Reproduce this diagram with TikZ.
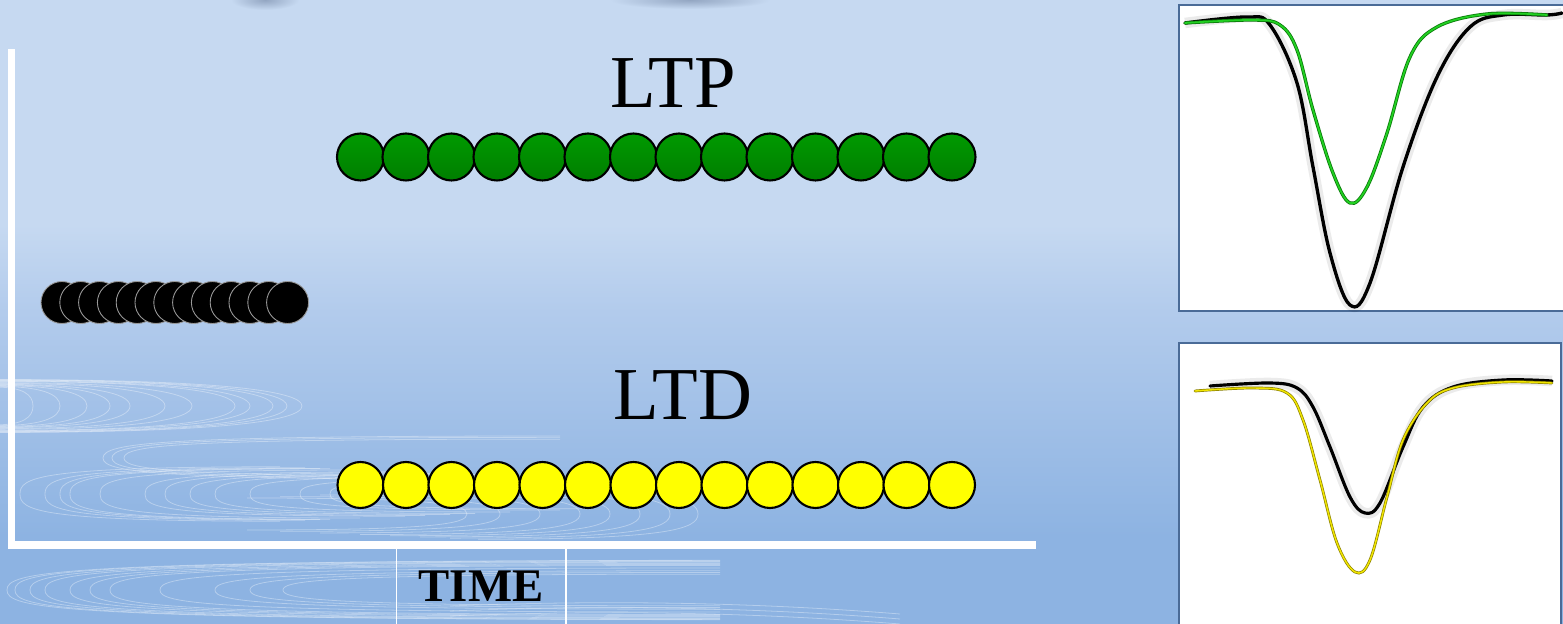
\documentclass[tikz,border=0pt]{standalone}
\usepackage{fontspec}
\setmainfont{Liberation Serif}
\definecolor{bgtop}{HTML}{C6D9F1}
\definecolor{bgmid}{HTML}{B2CBEC}
\definecolor{bgbot}{HTML}{8DB3E2}
\definecolor{panelframe}{HTML}{4A6B97}
\definecolor{gdark}{HTML}{007E00}
\definecolor{glight}{HTML}{009A00}
\definecolor{ylw}{HTML}{FFFF00}
\definecolor{lgreen}{HTML}{22D022}
\definecolor{dgreen}{HTML}{0A7A0A}
\definecolor{lyel}{HTML}{F2E600}
\definecolor{dyel}{HTML}{8C8200}
\definecolor{smudge}{HTML}{93A6C2}
\pgfdeclareverticalshading{bgshade}{100bp}{color(0bp)=(bgbot); color(32bp)=(bgbot); color(50bp)=(bgmid); color(57bp)=(bgtop); color(100bp)=(bgtop)}
\tikzset{
  gball/.style={circle, draw=black, line width=1.2pt, top color=glight, bottom color=gdark, minimum size=0.94cm, inner sep=0pt},
  yball/.style={circle, draw=black, line width=1.2pt, fill=ylw, minimum size=0.92cm, inner sep=0pt},
  kball/.style={circle, draw=black!40!white, line width=0.5pt, fill=black, minimum size=0.84cm, inner sep=0pt},
  axisline/.style={draw=white, line width=4.2pt},
  thinline/.style={draw=white, line width=1.1pt},
  panel/.style={draw=panelframe, line width=1.3pt, fill=white},
  swirl/.style={draw=white, opacity=0.35, line width=0.45pt},
  glow/.style={draw=black, opacity=0.08, line width=6pt, line join=round},
  bigtext/.style={font=\fontsize{42.5}{50}\selectfont, inner sep=0pt},
  timetext/.style={font=\fontsize{26.6}{30}\selectfont\bfseries, inner sep=0pt}
}
\begin{document}
\begin{tikzpicture}[x={(0.02cm,0)}, y={(0,-0.02cm)}]
\useasboundingbox (0,0) rectangle (1563,624);
% background
\shade[shading=bgshade] (0,0) rectangle (1563,624);
\shade[inner color=smudge, outer color=bgtop] (265,0) ellipse [x radius=34, y radius=10];
\shade[inner color=smudge, outer color=bgtop] (690,0) ellipse [x radius=80, y radius=9];
% decorative swirls
\begin{scope}
\clip (0,360) rectangle (1000,624);
% band A: nested ")" shapes
\foreach \r in {33,60,87,110,130,165,192,235,250,273,287,302}{
  \pgfmathsetmacro{\ha}{18+0.028*\r}
  \draw[swirl] ({-5},{406-\ha}) .. controls ({0.7*\r},{406-\ha}) and ({\r},{406-0.6*\ha}) .. ({\r},{406}) .. controls ({\r},{406+0.6*\ha}) and ({0.7*\r},{406+\ha}) .. ({-5},{406+\ha});
}
% band B: large "(" shapes
\foreach \l in {103,112,124}{
  \pgfmathsetmacro{\ha}{22-0.15*(\l-103)}
  \draw[swirl] ({560},{458-\ha}) .. controls ({\l+60},{458-\ha}) and ({\l},{458-0.7*\ha}) .. ({\l},{458}) .. controls ({\l},{458+0.7*\ha}) and ({\l+60},{458+\ha}) .. ({600},{458+\ha});
}
% band B2: nested "(" shapes
\foreach \l in {20,45,60,70,100,145,165,190,215,250,300,330}{
  \pgfmathsetmacro{\ha}{28-0.04*\l}
  \draw[swirl] ({\l+260},{494-\ha}) .. controls ({\l+0.3*\ha*2},{494-\ha}) and ({\l},{494-0.6*\ha}) .. ({\l},{494}) .. controls ({\l},{494+0.6*\ha}) and ({\l+0.3*\ha*2},{494+\ha}) .. ({\l+260},{494+\ha});
}
% band C: nested ")" shapes near the yellow row
\foreach \r in {467,500,540,580,610,640,670,698}{
  \pgfmathsetmacro{\ha}{16+0.04*(\r-467)}
  \draw[swirl] ({\r-220},{514-\ha}) .. controls ({\r-30},{514-\ha}) and ({\r},{514-0.6*\ha}) .. ({\r},{514}) .. controls ({\r},{514+0.6*\ha}) and ({\r-30},{514+\ha}) .. ({\r-220},{514+\ha});
}
% band D: nested "(" shapes below the axis
\foreach \l in {7,15,30,45,70,90,110,160,215,250,283}{
  \pgfmathsetmacro{\ha}{30-0.05*\l}
  \draw[swirl] ({720},{590-\ha}) .. controls ({\l+40},{590-\ha}) and ({\l},{590-0.6*\ha}) .. ({\l},{590}) .. controls ({\l},{590+0.6*\ha}) and ({\l+40},{590+\ha}) .. ({720},{590+\ha});
}
\foreach \y in {606,611,616}{
  \draw[swirl] ({450},{\y}) .. controls ({600},{\y-6}) and ({750},{\y-4}) .. ({900},{\y+8});
}
\end{scope}
% axes
\draw[axisline] (11.5,49) -- (11.5,549);
\draw[axisline] (8,545) -- (1036,545);
\draw[thinline] (396.5,549) -- (396.5,624);
\draw[thinline] (566,549) -- (566,624);
% labels
\node[bigtext, anchor=base] (ltp) at (673,108) {LTP};
\node[bigtext, anchor=base] (ltd) at (683,420) {LTD};
\node[timetext, anchor=base] (time) at (481,602) {TIME};
% circles
\foreach \i in {0,...,13}{
  \node[gball] (g\i) at ({360.5+45.5*\i},157) {};
}
\foreach \i in {0,...,13}{
  \node[yball] (y\i) at ({360.5+45.5*\i},485) {};
}
\foreach \i in {0,...,12}{
  \node[kball] (k\i) at ({62+18.8*\i},302.5) {};
}
% panels
\draw[panel] (1179,5) rectangle (1566,311);
\draw[panel] (1179,343) rectangle (1561,628);
% top panel curves
\draw[glow] plot[smooth, tension=0.6] coordinates {(1185,23) (1247,17) (1270,25) (1297,83) (1313,167) (1330,253) (1350,305) (1370,283) (1403,167) (1437,77) (1470,27) (1503,15) (1547,15) (1562,13)};
\draw[black, line width=1.9pt, line cap=round] plot[smooth, tension=0.6] coordinates {(1185,23) (1247,17) (1270,25) (1297,83) (1313,167) (1330,253) (1350,305) (1370,283) (1403,167) (1437,77) (1470,27) (1503,15) (1547,15) (1562,13)};
\draw[dgreen, line width=1.9pt, line cap=round] plot[smooth, tension=0.6] coordinates {(1185,23) (1253,20) (1280,25) (1297,50) (1313,110) (1333,173) (1350,203) (1367,187) (1387,133) (1410,57) (1437,27) (1487,14) (1547,15)};
\draw[lgreen, line width=1.0pt, line cap=round] plot[smooth, tension=0.6] coordinates {(1185,23) (1253,20) (1280,25) (1297,50) (1313,110) (1333,173) (1350,203) (1367,187) (1387,133) (1410,57) (1437,27) (1487,14) (1547,15)};
% bottom panel curves
\draw[glow] plot[smooth, tension=0.6] coordinates {(1210,386) (1270,383) (1297,388) (1313,407) (1330,447) (1350,497) (1365,513) (1380,503) (1403,447) (1423,407) (1453,387) (1503,380) (1552,381)};
\draw[black, line width=1.8pt, line cap=round] plot[smooth, tension=0.6] coordinates {(1210,386) (1270,383) (1297,388) (1313,407) (1330,447) (1350,497) (1365,513) (1380,503) (1403,447) (1423,407) (1453,387) (1503,380) (1552,381)};
\draw[dyel, line width=1.6pt, line cap=round] plot[smooth, tension=0.6] coordinates {(1195,391) (1253,388) (1287,393) (1303,420) (1320,480) (1337,543) (1355,572) (1370,560) (1387,497) (1403,440) (1427,403) (1453,388) (1503,382) (1552,383)};
\draw[lyel, line width=0.8pt, line cap=round] plot[smooth, tension=0.6] coordinates {(1195,391) (1253,388) (1287,393) (1303,420) (1320,480) (1337,543) (1355,572) (1370,560) (1387,497) (1403,440) (1427,403) (1453,388) (1503,382) (1552,383)};
\end{tikzpicture}
\end{document}
